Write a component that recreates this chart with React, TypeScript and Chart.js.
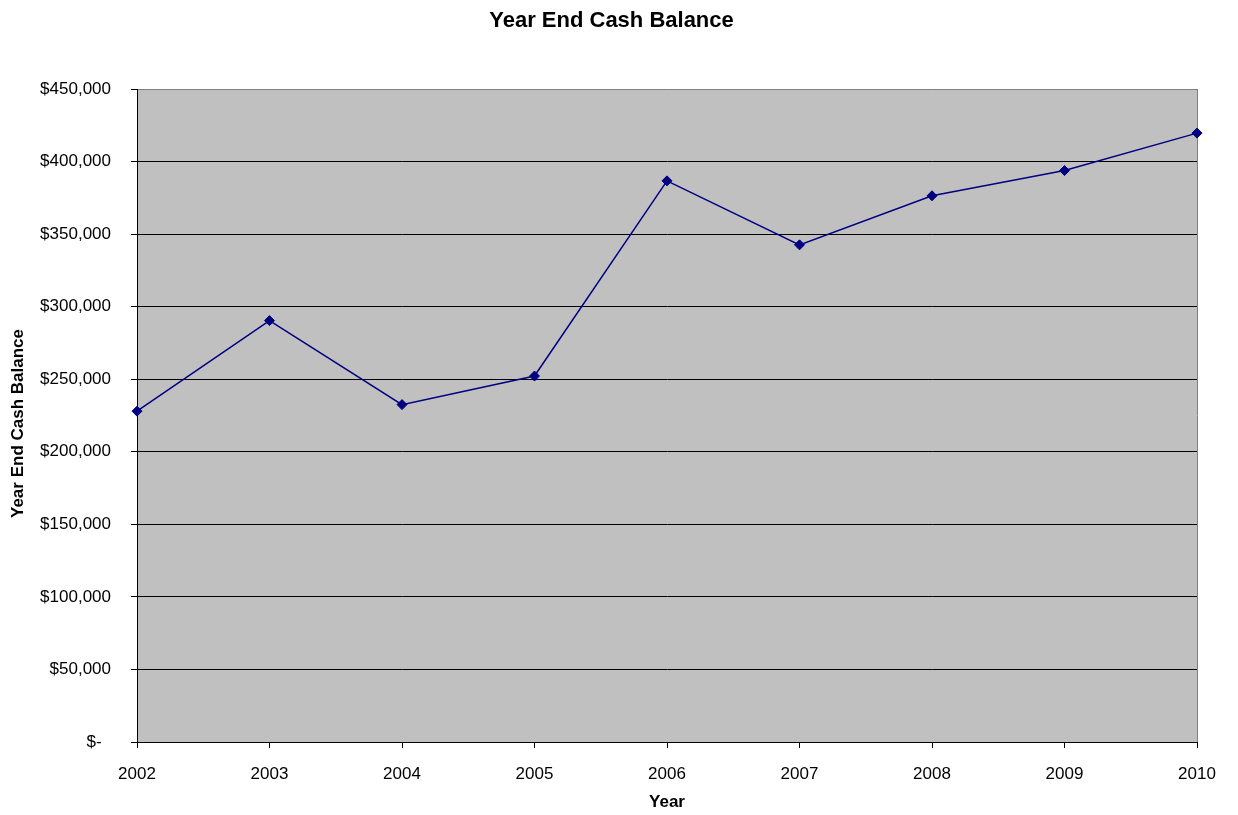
import React, { useEffect, useRef } from "react";
import { Chart, registerables } from "chart.js";

Chart.register(...registerables);

const years: string[] = ["2002", "2003", "2004", "2005", "2006", "2007", "2008", "2009", "2010"];
const cashBalance: number[] = [228000, 290400, 232500, 252200, 386700, 342600, 376400, 393800, 419600];
const chartTitle = "Year End Cash Balance";
const xAxisTitle = "Year";
const yAxisTitle = "Year End Cash Balance";
const yMin = 0;
const yMax = 450000;
const yStep = 50000;

const FONT = "'Liberation Sans', Arial, sans-serif";

function fmtMoney(v: number): string {
  if (v === 0) return "$-  ";
  return "$" + v.toLocaleString("en-US");
}

export default function App() {
  const canvasRef = useRef<HTMLCanvasElement | null>(null);

  useEffect(() => {
    const canvas = canvasRef.current;
    if (!canvas) return;

    const bgPlugin = {
      id: "plotBg",
      beforeDraw(chart: any) {
        const { ctx, chartArea } = chart;
        ctx.save();
        ctx.fillStyle = "#C0C0C0";
        ctx.fillRect(chartArea.left, chartArea.top, chartArea.right - chartArea.left, chartArea.bottom - chartArea.top);
        ctx.restore();
      },
      afterDraw(chart: any) {
        const { ctx, chartArea } = chart;
        ctx.save();
        ctx.fillStyle = "#000";
        ctx.font = `bold 22px ${FONT}`;
        ctx.textAlign = "center";
        ctx.textBaseline = "alphabetic";
        ctx.fillText(chartTitle, 611.5, 27);
        // y axis title, rotated
        ctx.translate(18.5, (chartArea.top + chartArea.bottom) / 2 + 8);
        ctx.rotate(-Math.PI / 2);
        ctx.font = `bold 17px ${FONT}`;
        ctx.textBaseline = "middle";
        ctx.fillText(yAxisTitle, 0, 0);
        ctx.restore();
      },
    };

    const chart = new Chart(canvas, {
      type: "line",
      data: {
        labels: years,
        datasets: [
          {
            label: yAxisTitle,
            data: cashBalance,
            borderColor: "#000080",
            backgroundColor: "#000080",
            borderWidth: 1.5,
            pointStyle: "rectRot",
            pointRadius: 5,
            pointBorderWidth: 1,
            pointBackgroundColor: "#000080",
            pointBorderColor: "#000080",
            tension: 0,
            fill: false,
          },
        ],
      },
      options: {
        animation: false,
        responsive: false,
        maintainAspectRatio: false,
        layout: { padding: { left: 0, right: 41, top: 89, bottom: 0 } },
        plugins: {
          legend: { display: false },
          tooltip: { enabled: false },
          title: { display: false },
        },
        scales: {
          x: {
            type: "category",
            offset: false,
            afterFit(scale: any) {
              scale.height = 73;
            },
            grid: {
              display: true,
              drawOnChartArea: true,
              color: (ctx: any) => (ctx.index === years.length - 1 ? "#808080" : "rgba(0,0,0,0)"),
              tickColor: "#000",
              tickLength: 6,
              lineWidth: 1,
            },
            border: { display: true, color: "#000", width: 1 },
            ticks: {
              color: "#000",
              font: { family: FONT, size: 17 },
              padding: 16,
              maxRotation: 0,
              autoSkip: false,
            },
            title: {
              display: true,
              text: xAxisTitle,
              color: "#000",
              font: { family: FONT, size: 17, weight: "bold" },
              padding: { top: 0, bottom: 2 },
            },
          },
          y: {
            min: yMin,
            max: yMax,
            afterFit(scale: any) {
              scale.width = 137;
            },
            grid: {
              display: true,
              drawOnChartArea: true,
              color: (ctx: any) => (ctx.tick && ctx.tick.value === yMax ? "#808080" : "#000"),
              tickColor: "#000",
              tickLength: 6,
              lineWidth: 1,
            },
            border: { display: true, color: "#000", width: 1 },
            ticks: {
              stepSize: yStep,
              color: "#000",
              font: { family: FONT, size: 17 },
              padding: 20,
              callback: (v: any) => fmtMoney(Number(v)),
            },
            title: { display: false },
          },
        },
      },
      plugins: [bgPlugin],
    });

    return () => {
      chart.destroy();
    };
  }, []);

  return (
    <div style={{ position: "fixed", left: 0, top: 0, width: 1238, height: 815, background: "#fff" }}>
      <canvas ref={canvasRef} width={1238} height={815} style={{ display: "block", width: 1238, height: 815 }} />
    </div>
  );
}
